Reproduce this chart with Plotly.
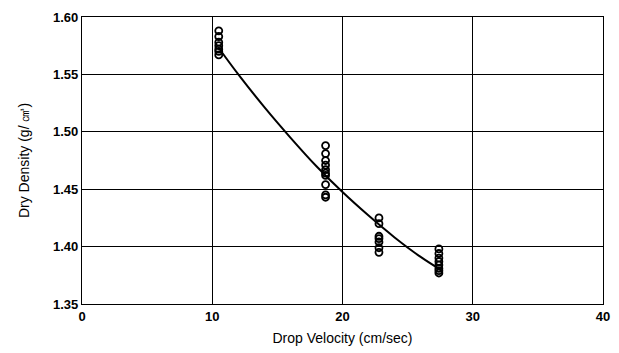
import plotly.graph_objects as go

# Measured data (Drop velocity vs dry density)
x_105 = [10.5] * 7
y_105 = [1.588, 1.583, 1.578, 1.575, 1.572, 1.570, 1.567]
x_187 = [18.7] * 10
y_187 = [1.488, 1.481, 1.475, 1.471, 1.467, 1.464, 1.462, 1.454, 1.445, 1.443]
x_228 = [22.8] * 7
y_228 = [1.425, 1.420, 1.409, 1.407, 1.404, 1.399, 1.395]
x_273 = [27.4] * 8
y_273 = [1.398, 1.394, 1.390, 1.387, 1.384, 1.381, 1.379, 1.377]

# Fitted curve
fit_x = [10.5, 12, 14, 16, 18, 20, 22, 24, 26, 27.5]
fit_y = [1.573, 1.550, 1.5215, 1.495, 1.470, 1.4475, 1.427, 1.408, 1.391, 1.380]

xs = x_105 + x_187 + x_228 + x_273
ys = y_105 + y_187 + y_228 + y_273

x_ticks = [0, 10, 20, 30, 40]
y_ticks = [1.35, 1.40, 1.45, 1.50, 1.55, 1.60]

fig = go.Figure()
fig.add_trace(go.Scatter(
    x=xs, y=ys, mode="markers",
    marker=dict(symbol="circle-open", size=7, color="black", line=dict(width=1.8)),
    showlegend=False,
))
fig.add_trace(go.Scatter(
    x=fit_x, y=fit_y, mode="lines",
    line=dict(color="black", width=2, shape="spline"),
    showlegend=False,
))

font_family = "Liberation Sans, Arial, sans-serif"
fig.update_layout(
    width=619, height=353,
    margin=dict(l=82, r=16, t=17, b=49),
    paper_bgcolor="white", plot_bgcolor="white",
    font=dict(family=font_family, color="black", size=13),
    xaxis=dict(
        range=[0, 40], tickvals=x_ticks, ticktext=[f"<b>{v}</b>" for v in x_ticks],
        showgrid=True, gridcolor="black", gridwidth=1,
        showline=True, linecolor="black", linewidth=1.3, mirror=True,
        zeroline=False, ticks="", ticklen=0, automargin=False,
        tickfont=dict(size=13, family=font_family),
        title=dict(text="Drop Velocity (cm/sec)", font=dict(size=14), standoff=10),
    ),
    yaxis=dict(
        range=[1.35, 1.60], tickvals=y_ticks, ticktext=[f"<b>{v:.2f}</b>" for v in y_ticks],
        showgrid=True, gridcolor="black", gridwidth=1,
        showline=True, linecolor="black", linewidth=1.3, mirror=True,
        zeroline=False, ticks="", ticklen=0, automargin=False,
        tickfont=dict(size=13, family=font_family),
        title=dict(text="Dry Density (g/ ㎤)", font=dict(size=14), standoff=20),
    ),
)

fig.write_html("out.html")
